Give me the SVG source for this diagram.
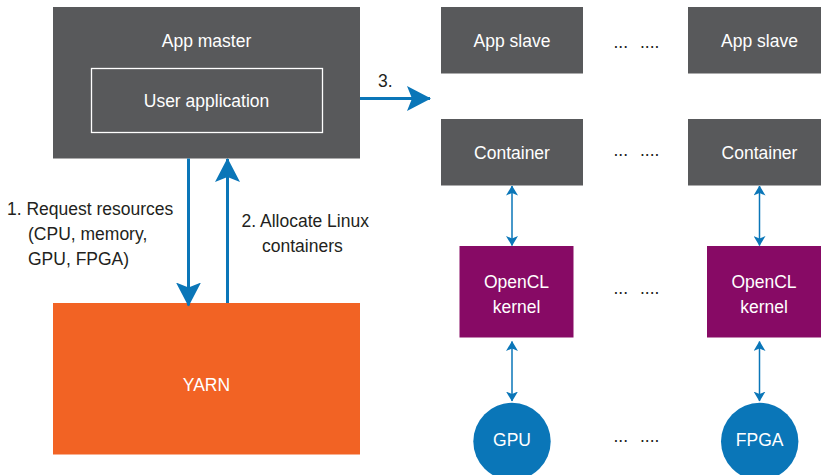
<svg xmlns="http://www.w3.org/2000/svg" width="821" height="475" viewBox="0 0 821 475">
  <style>
    text { font-family: "Liberation Sans", Arial, sans-serif; font-size: 17.5px; }
    .box { fill: #58595b; }
    .kern { fill: #870a65; }
    .dev { fill: #0a76b8; }
    .light { fill: #ffffff; text-anchor: middle; }
    .dark { fill: #231f20; }
    .thick { stroke: #0a76b8; stroke-width: 3; fill: none; }
    .thin { stroke: #0a76b8; stroke-width: 1.5; fill: none; }
    .head { fill: #0a76b8; }
  </style>
  <defs>
    <marker id="bigHead" viewBox="0 0 24 25" refX="23" refY="12.5" markerWidth="24" markerHeight="25" markerUnits="userSpaceOnUse" orient="auto">
      <path d="M0,0 L24,12.5 L0,25 L5,12.5 Z" class="head"/>
    </marker>
    <marker id="smallHead" viewBox="0 0 10 12" refX="9.5" refY="6" markerWidth="10" markerHeight="12" markerUnits="userSpaceOnUse" orient="auto-start-reverse">
      <path d="M0,0 L10,6 L0,12 L2.5,6 Z" class="head"/>
    </marker>
  </defs>

  <!-- Application master with embedded user application -->
  <g id="app-master">
    <rect class="box" x="53" y="7" width="307" height="151.5"/>
    <text class="light" x="206.5" y="46.7">App master</text>
    <rect x="91.5" y="68.5" width="231" height="64" fill="none" stroke="#ffffff" stroke-width="1.3"/>
    <text class="light" x="206.5" y="106.5">User application</text>
  </g>

  <!-- Resource manager -->
  <g id="yarn">
    <rect x="53" y="303" width="307" height="151.5" fill="#f26324"/>
    <text class="light" x="206.5" y="390.5">YARN</text>
  </g>

  <!-- Slave column 1 -->
  <g id="app-slave-1">
    <rect class="box" x="441" y="7" width="142" height="66.5"/>
    <text class="light" x="512" y="46.7">App slave</text>
  </g>
  <g id="container-1">
    <rect class="box" x="441" y="119" width="142" height="66.5"/>
    <text class="light" x="512" y="159">Container</text>
  </g>
  <g id="kernel-1">
    <rect class="kern" x="459.5" y="246" width="114" height="91.5"/>
    <text class="light" x="516.5" y="288.3">OpenCL</text>
    <text class="light" x="516.5" y="312.7">kernel</text>
  </g>
  <g id="gpu">
    <circle class="dev" cx="512" cy="441.5" r="38.7"/>
    <text class="light" x="512" y="446">GPU</text>
  </g>

  <!-- Slave column 2 -->
  <g id="app-slave-2">
    <rect class="box" x="688" y="7" width="142" height="66.5"/>
    <text class="light" x="759.5" y="46.7">App slave</text>
  </g>
  <g id="container-2">
    <rect class="box" x="688" y="119" width="142" height="66.5"/>
    <text class="light" x="759.5" y="159">Container</text>
  </g>
  <g id="kernel-2">
    <rect class="kern" x="707" y="246" width="114" height="91.5"/>
    <text class="light" x="764" y="288.3">OpenCL</text>
    <text class="light" x="764" y="312.7">kernel</text>
  </g>
  <g id="fpga">
    <circle class="dev" cx="759.7" cy="441.5" r="38.7"/>
    <text class="light" x="759.7" y="446">FPGA</text>
  </g>

  <!-- Ellipses between the columns -->
  <g id="ellipses" class="dark">
    <text class="dark" x="613.5" y="48">...</text>
    <text class="dark" x="640" y="48">....</text>
    <text class="dark" x="613.5" y="156">...</text>
    <text class="dark" x="640" y="156">....</text>
    <text class="dark" x="613.5" y="294">...</text>
    <text class="dark" x="640" y="294">....</text>
    <text class="dark" x="613.5" y="442">...</text>
    <text class="dark" x="640" y="442">....</text>
  </g>

  <!-- Connectors -->
  <g id="connectors">
    <line class="thick" x1="188.5" y1="158.5" x2="188.5" y2="305.5" marker-end="url(#bigHead)"/>
    <line class="thick" x1="227.5" y1="303" x2="227.5" y2="159" marker-end="url(#bigHead)"/>
    <line class="thick" x1="360" y1="98.5" x2="430" y2="98.5" marker-end="url(#bigHead)"/>
    <line class="thin" x1="512" y1="186" x2="512" y2="245.5" marker-start="url(#smallHead)" marker-end="url(#smallHead)"/>
    <line class="thin" x1="759.5" y1="186" x2="759.5" y2="245.5" marker-start="url(#smallHead)" marker-end="url(#smallHead)"/>
    <line class="thin" x1="512" y1="341.5" x2="512" y2="401" marker-start="url(#smallHead)" marker-end="url(#smallHead)"/>
    <line class="thin" x1="759.5" y1="341.5" x2="759.5" y2="401" marker-start="url(#smallHead)" marker-end="url(#smallHead)"/>
  </g>

  <!-- Connector labels -->
  <g id="labels">
    <text class="dark" x="7" y="215">1. Request resources</text>
    <text class="dark" x="28" y="240">(CPU, memory,</text>
    <text class="dark" x="28" y="265">GPU, FPGA)</text>
    <text class="dark" x="241.5" y="227">2. Allocate Linux</text>
    <text class="dark" x="262" y="252">containers</text>
    <text class="dark" x="378" y="87">3.</text>
  </g>
</svg>
